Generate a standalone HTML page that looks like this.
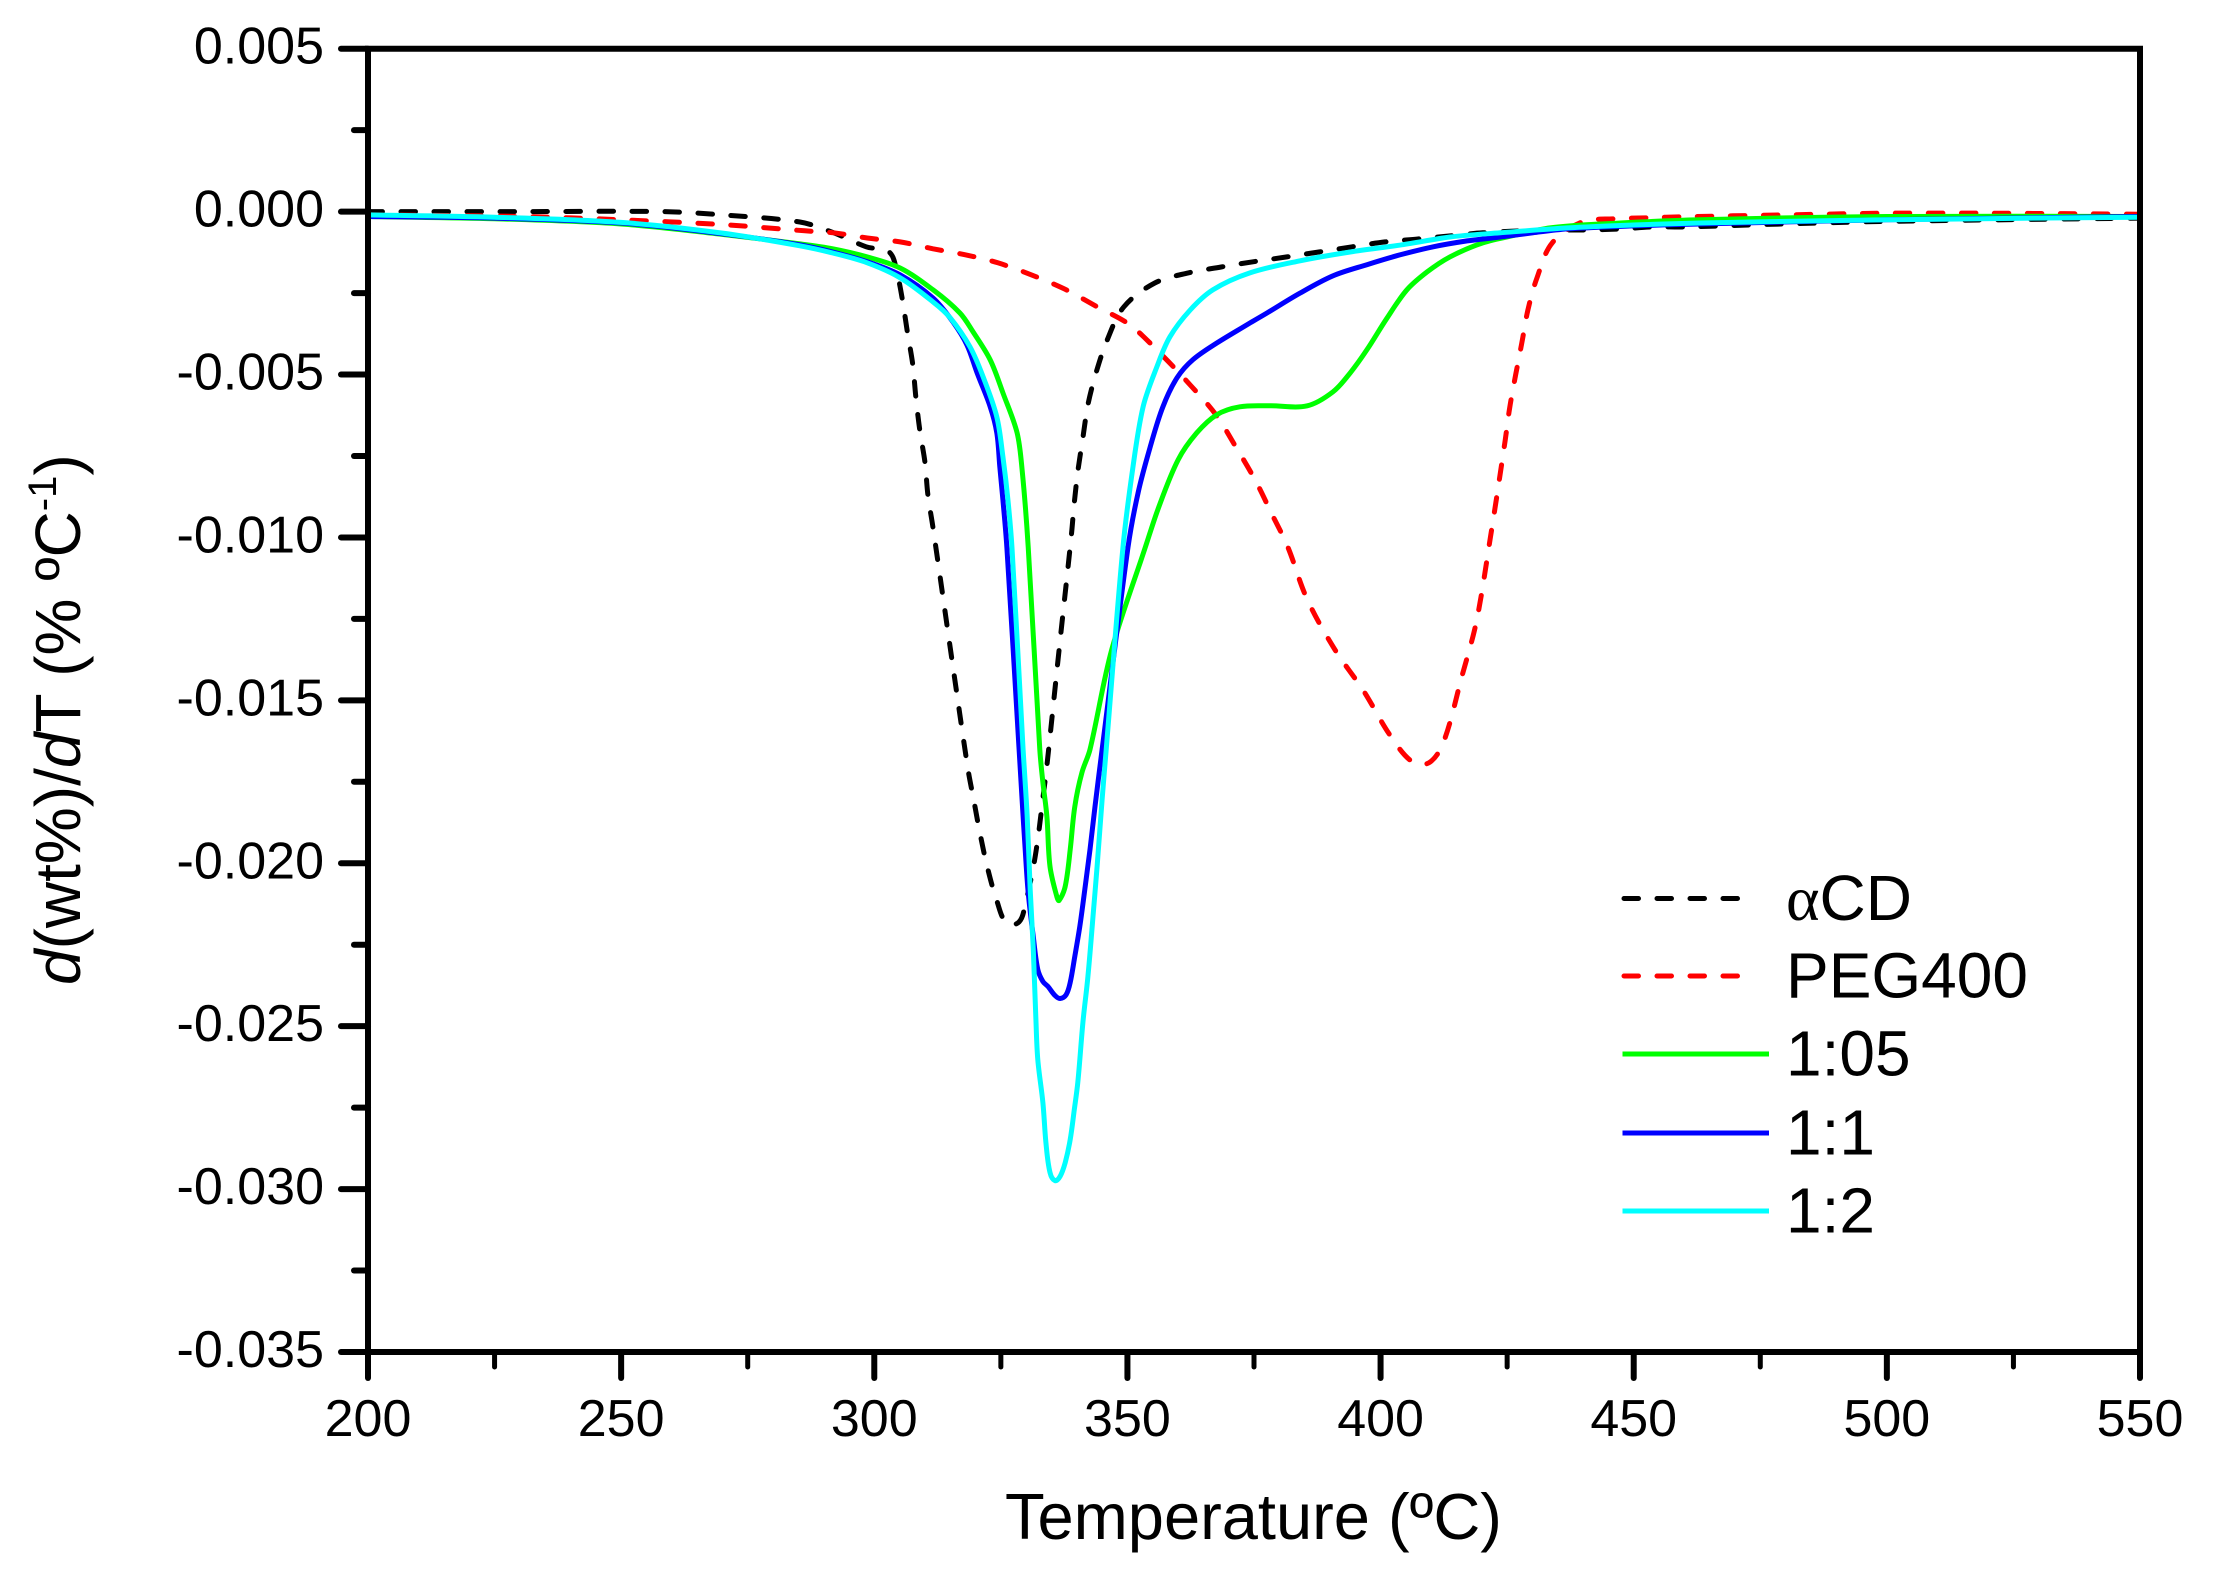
<!DOCTYPE html>
<html lang="en">
<head>
<meta charset="utf-8">
<title>DTG curves</title>
<style>
html,body{margin:0;padding:0;background:#fff;}
svg{display:block;}
text{font-family:"Liberation Sans",sans-serif;fill:#000;}
</style>
</head>
<body>
<svg id="chart" xmlns="http://www.w3.org/2000/svg" width="2215" height="1582" viewBox="0 0 2215 1582">
  <rect x="0" y="0" width="2215" height="1582" fill="#fff"/>
  <g id="series"></g>
  <g id="axes"></g>
  <text x="1005" y="1539" font-size="65">Temperature (ºC)</text>
  <text transform="translate(80 985) rotate(-90)" font-size="64"><tspan font-style="italic">d</tspan>(wt%)/<tspan font-style="italic">d</tspan>T (% ºC<tspan font-size="40" dy="-24">-1</tspan><tspan dy="24">)</tspan></text>
  <g id="legend"></g>
</svg>
<script>
const xTickLabels = ["200","250","300","350","400","450","500","550"];
const xMinorTicks = [225,275,325,375,425,475,525];
const yTickLabels = ["0.005","0.000","-0.005","-0.010","-0.015","-0.020","-0.025","-0.030","-0.035"];
const yMinorTicks = [0.0025,-0.0025,-0.0075,-0.0125,-0.0175,-0.0225,-0.0275,-0.0325];

const acdT = [200,230,258,270,285.3,292,298.4,303,304.5,305.5,306.5,307.6,308.2,309,310,310.6,311.6,315.3,318.5,319.7,320.9,322.3,324.2,326.2,328.6,329.8,331.5,332.5,333.3,334.1,336.5,338.9,339.5,340.2,341.2,342.2,343.8,346,349.3,355.4,362,368.5,374.8,381.5,387.8,394.4,400.9,407.4,413.5,420.2,431.5,441,447.5,453.8,460.3,475,500,550];
const acdV = [0.00000,0.00000,0.00000,-0.00010,-0.00032,-0.00065,-0.00108,-0.00125,-0.00190,-0.00265,-0.00366,-0.00470,-0.00568,-0.00673,-0.00768,-0.00872,-0.00970,-0.01370,-0.01710,-0.01810,-0.01910,-0.02010,-0.02115,-0.02185,-0.02180,-0.02127,-0.02004,-0.01903,-0.01800,-0.01700,-0.01345,-0.00998,-0.00894,-0.00798,-0.00694,-0.00593,-0.00495,-0.00394,-0.00292,-0.00219,-0.00188,-0.00170,-0.00154,-0.00139,-0.00124,-0.00108,-0.00093,-0.00084,-0.00075,-0.00065,-0.00057,-0.00056,-0.00053,-0.00047,-0.00047,-0.00040,-0.00030,-0.00020];

const pegT = [200,230,250,270,286.3,292,298.6,305.1,311.6,318.1,324.4,331,337.5,344,350.5,356.8,362.4,367.5,371.4,375.2,378.4,381.7,385.5,391,396.6,402,406.4,409.7,412.5,416,418.9,421.7,424.6,425.5,426.7,427.9,429.1,430.9,433.9,439.8,446.3,452.6,459.1,480,500,520,550];
const pegV = [-0.00010,-0.00015,-0.00025,-0.00040,-0.00059,-0.00065,-0.00081,-0.00093,-0.00114,-0.00133,-0.00157,-0.00194,-0.00237,-0.00292,-0.00348,-0.00440,-0.00532,-0.00624,-0.00722,-0.00823,-0.00924,-0.01030,-0.01190,-0.01345,-0.01470,-0.01610,-0.01690,-0.01690,-0.01625,-0.01430,-0.01260,-0.01000,-0.00704,-0.00602,-0.00500,-0.00403,-0.00302,-0.00203,-0.00096,-0.00032,-0.00022,-0.00019,-0.00016,-0.00010,-0.00005,-0.00005,-0.00008];

const r05T = [200,225,250,270,285.3,291.8,298.6,305.1,311.6,316.9,319.5,322.9,325.4,328.2,329.2,330.4,332.7,333.3,334.1,334.7,336.1,336.5,337.7,338.7,339.6,341,342.6,346.9,353.5,356,360,363.7,367.7,372.2,378.2,385.5,390.6,394,397.3,401.3,405.2,409.2,413.7,420.2,427,433.5,443.4,463,500,550];
const r05V = [-0.00015,-0.00022,-0.00038,-0.00070,-0.00099,-0.00114,-0.00139,-0.00173,-0.00240,-0.00311,-0.00369,-0.00455,-0.00556,-0.00679,-0.00792,-0.01029,-0.01651,-0.01752,-0.01857,-0.02010,-0.02105,-0.02114,-0.02071,-0.01958,-0.01826,-0.01722,-0.01651,-0.01345,-0.01032,-0.00915,-0.00762,-0.00679,-0.00623,-0.00599,-0.00596,-0.00596,-0.00553,-0.00495,-0.00424,-0.00326,-0.00240,-0.00185,-0.00139,-0.00096,-0.00071,-0.00050,-0.00038,-0.00025,-0.00015,-0.00015];

const r1T = [200,225,250,270,285.3,291.8,298.6,305.1,311.6,315.5,318.3,320.3,322.9,324.2,324.8,325.4,326.2,328.6,329.2,329.8,330.4,331.4,332.3,333.3,334.3,335.7,336.7,337.9,338.7,339.6,340.6,341.4,342.6,343.6,345,350.1,352.1,354.5,357,359.8,362.9,367.7,374.2,377.6,384.1,390.6,397.3,403.8,410.4,417.1,423.6,430.1,436.9,449.9,463.1,500,550];
const r1V = [-0.00015,-0.00020,-0.00035,-0.00068,-0.00102,-0.00124,-0.00154,-0.00194,-0.00265,-0.00338,-0.00409,-0.00495,-0.00599,-0.00679,-0.00783,-0.00884,-0.01032,-0.01651,-0.01805,-0.01958,-0.02090,-0.02225,-0.02326,-0.02363,-0.02378,-0.02406,-0.02415,-0.02403,-0.02366,-0.02286,-0.02194,-0.02102,-0.01958,-0.01826,-0.01651,-0.01032,-0.00863,-0.00722,-0.00599,-0.00510,-0.00455,-0.00403,-0.00342,-0.00311,-0.00250,-0.00197,-0.00163,-0.00133,-0.00108,-0.00090,-0.00078,-0.00065,-0.00053,-0.00044,-0.00038,-0.00025,-0.00015];

const r2T = [200,225,250,270,285.3,291.8,298.6,305.1,311.6,315,318.9,321.5,324.2,325.4,326.4,327.2,329.4,330.2,330.8,331.4,331.9,332.3,333.3,333.9,334.7,335.7,336.7,337.7,338.7,339.5,340.2,341.2,342.2,343.2,344,345,345.8,349.1,351.1,353.1,355.8,358.4,362.4,366.9,374.2,384.1,394,404.2,413.7,423.6,436.9,449.9,463.1,500,550];
const r2V = [-0.00010,-0.00017,-0.00033,-0.00066,-0.00105,-0.00127,-0.00157,-0.00203,-0.00277,-0.00326,-0.00415,-0.00507,-0.00630,-0.00752,-0.00884,-0.01032,-0.01651,-0.01857,-0.02081,-0.02265,-0.02471,-0.02603,-0.02735,-0.02857,-0.02949,-0.02974,-0.02961,-0.02919,-0.02848,-0.02756,-0.02673,-0.02489,-0.02348,-0.02163,-0.02010,-0.01805,-0.01651,-0.01032,-0.00783,-0.00599,-0.00477,-0.00384,-0.00302,-0.00240,-0.00188,-0.00151,-0.00124,-0.00102,-0.00078,-0.00065,-0.00050,-0.00041,-0.00035,-0.00025,-0.00017];

const legendLabels = ["αCD","PEG400","1:05","1:1","1:2"];

const NS = "http://www.w3.org/2000/svg";
const X0 = 368, X1 = 2140, Y0 = 48.7, Y1 = 1352;
const TMIN = 200, TMAX = 550, VMAX = 0.005, VMIN = -0.035;
const xAt = t => X0 + (t - TMIN) / (TMAX - TMIN) * (X1 - X0);
const yAt = v => Y0 + (VMAX - v) / (VMAX - VMIN) * (Y1 - Y0);

function make(tag, attrs, parent) {
  const el = document.createElementNS(NS, tag);
  for (const k in attrs) el.setAttribute(k, attrs[k]);
  parent.appendChild(el);
  return el;
}

// Smooth path through the points (Catmull-Rom, reduced tension, tangent limited by segment length)
function smoothPath(ts, vs) {
  const p = ts.map(function (t, i) { return [xAt(t), yAt(vs[i])]; });
  let d = "M" + p[0][0].toFixed(1) + " " + p[0][1].toFixed(1);
  function tan(i) {
    const a = p[Math.max(i - 1, 0)], b = p[Math.min(i + 1, p.length - 1)];
    const dx = b[0] - a[0], dy = b[1] - a[1], len = Math.hypot(dx, dy) || 1;
    return [dx / len, dy / len];
  }
  for (let i = 0; i < p.length - 1; i++) {
    const a = p[i], b = p[i + 1], ta = tan(i), tb = tan(i + 1);
    const s = Math.hypot(b[0] - a[0], b[1] - a[1]) * 0.33;
    d += "C" + (a[0] + ta[0] * s).toFixed(1) + " " + (a[1] + ta[1] * s).toFixed(1) + " " +
         (b[0] - tb[0] * s).toFixed(1) + " " + (b[1] - tb[1] * s).toFixed(1) + " " +
         b[0].toFixed(1) + " " + b[1].toFixed(1);
  }
  return d;
}

const seriesGroup = document.getElementById("series");
const axesGroup = document.getElementById("axes");
const legendGroup = document.getElementById("legend");

const seriesList = [
  {id:"acd", t:acdT, v:acdV, color:"#000000", dash:true},
  {id:"peg400", t:pegT, v:pegV, color:"#ff0000", dash:true},
  {id:"ratio-1-05", t:r05T, v:r05V, color:"#00ff00", dash:false},
  {id:"ratio-1-1", t:r1T, v:r1V, color:"#0000ff", dash:false},
  {id:"ratio-1-2", t:r2T, v:r2V, color:"#00ffff", dash:false}
];

seriesList.forEach(function (s) {
  const line = make("path", {d: smoothPath(s.t, s.v), fill: "none", stroke: s.color, "stroke-width": 5, "stroke-linejoin": "round", "stroke-linecap": s.dash ? "round" : "butt"}, seriesGroup);
  if (s.dash) line.setAttribute("stroke-dasharray", "14.5 18.5");
  
  
});

// plot frame
const frame = make("path", {d: "M" + X0 + " " + Y0 + "H" + X1 + "V" + Y1 + "H" + X0 + "Z", fill: "none", stroke: "#000", "stroke-width": 6}, axesGroup);



function tickLine(x1, y1, x2, y2, w) {
  return make("line", {x1: x1, y1: y1, x2: x2, y2: y2, stroke: "#000", "stroke-width": w, "stroke-linecap": "round"}, axesGroup);
}

xTickLabels.forEach(function (label) {
  const x = xAt(parseFloat(label));
  const tick = tickLine(x, Y1, x, 1378, 6);
  
  
  const txt = make("text", {x: x, y: 1436, "font-size": 52, "text-anchor": "middle"}, axesGroup);
  txt.textContent = label;
  
  
});

xMinorTicks.forEach(function (t) {
  const x = xAt(t);
  const tick = tickLine(x, Y1, x, 1367, 5);
  
  
});

yTickLabels.forEach(function (label) {
  const y = yAt(parseFloat(label));
  const tick = tickLine(341, y, X0, y, 6);
  
  
  const txt = make("text", {x: 324, y: y + 15, "font-size": 52, "text-anchor": "end"}, axesGroup);
  txt.textContent = label;
  
  
});

yMinorTicks.forEach(function (v) {
  const y = yAt(v);
  const tick = tickLine(354, y, X0, y, 6);
  
  
});

const legendRows = [898.5, 976, 1054, 1133, 1211];
seriesList.forEach(function (s, i) {
  const y = legendRows[i];
  const sw = make("line", {x1: s.dash ? 1624 : 1622.5, y1: y, x2: s.dash ? 1740 : 1769, y2: y, stroke: s.color, "stroke-width": 5, "stroke-linecap": s.dash ? "round" : "butt"}, legendGroup);
  if (s.dash) sw.setAttribute("stroke-dasharray", "14.5 18.5");
  
  
  const txt = make("text", {x: 1786, y: y + 21.5, "font-size": 64}, legendGroup);
  if (i === 0) {
    const a = make("tspan", {"font-family": "\"Liberation Serif\", serif"}, txt);
    a.textContent = legendLabels[i].charAt(0);
    const rest = make("tspan", {}, txt);
    rest.textContent = legendLabels[i].slice(1);
  } else {
    txt.textContent = legendLabels[i];
  }
  
  
});
</script>
</body>
</html>
